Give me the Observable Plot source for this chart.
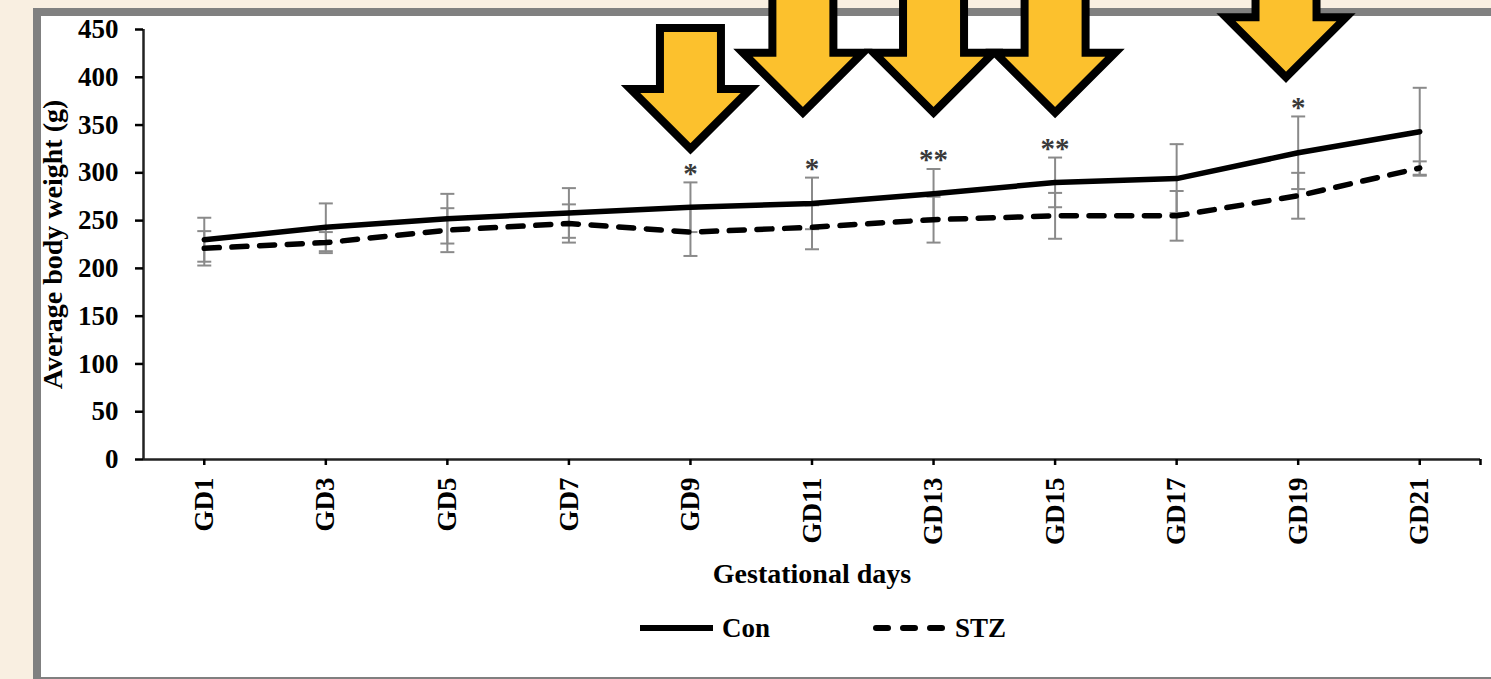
<!DOCTYPE html>
<html>
<head>
<meta charset="utf-8">
<script src="https://cdn.jsdelivr.net/npm/d3@7"></script>
<script src="https://cdn.jsdelivr.net/npm/@observablehq/plot@0.6"></script>
<style>
  html, body { margin: 0; padding: 0; }
  body { width: 1491px; height: 679px; overflow: hidden; background: #f9efe1; position: relative;
         font-family: "Liberation Serif", "Times New Roman", serif; font-weight: bold; }
  #frame { position: absolute; left: 33px; top: 8px; width: 1500px; height: 661px;
           border: 8px solid #808080; background: #ffffff; }
  #chart { position: absolute; left: 0; top: 0; }
  .leg { position: absolute; top: 615px; height: 27px; }
  .legtxt { position: absolute; top: 615px; line-height: 27px; font-size: 27px; color: #000; }
</style>
</head>
<body>
<div id="frame"></div>
<div id="chart"></div>
<svg class="leg" style="left:640px" width="76" height="27"><line x1="0" y1="13" x2="73" y2="13" stroke="#000" stroke-width="6"/></svg>
<span class="legtxt" style="left:722px">Con</span>
<svg class="leg" style="left:873px" width="76" height="27"><line x1="3" y1="13" x2="69" y2="13" stroke="#000" stroke-width="6" stroke-linecap="round" stroke-dasharray="12,15"/></svg>
<span class="legtxt" style="left:955px">STZ</span>
<script>
// ---- data ----
const days = [1, 3, 5, 7, 9, 11, 13, 15, 17, 19, 21];
const dayLabels = ["GD1", "GD3", "GD5", "GD7", "GD9", "GD11", "GD13", "GD15", "GD17", "GD19", "GD21"];
const conMean = [230, 243, 252, 258, 264, 268, 278, 290, 294, 321, 343];
const conErr  = [23, 25, 26, 26, 26, 27, 26, 26, 36, 38, 46];
const stzMean = [221, 227, 240, 247, 238, 243, 251, 255, 255, 276, 305];
const stzErr  = [18, 11, 23, 20, 25, 23, 24, 24, 26, 24, 7];
const sigMarks = ["", "", "", "", "*", "*", "**", "**", "", "*", ""];
const yTicks = [0, 50, 100, 150, 200, 250, 300, 350, 400, 450];
const arrowDays = [9, 10.85, 13, 15, 18.8];
const arrowTips = [325, 363, 363, 363, 400];
const xTitle = "Gestational days";
const yTitle = "Average body weight (g)";

// ---- tables ----
const con = days.map((d, i) => ({day: d, mean: conMean[i], lo: conMean[i] - conErr[i], hi: conMean[i] + conErr[i], sig: sigMarks[i]}));
const stz = days.map((d, i) => ({day: d, mean: stzMean[i], lo: stzMean[i] - stzErr[i], hi: stzMean[i] + stzErr[i]}));
const caps = [...con, ...stz].flatMap(r => [{day: r.day, v: r.lo}, {day: r.day, v: r.hi}]);
const arrows = arrowDays.map((d, i) => ({day: d, tip: arrowTips[i]}));

const capSymbol = {draw(ctx) { ctx.moveTo(-7, 0); ctx.lineTo(7, 0); }};
const arrowSymbol = (shaft) => ({draw(ctx) {
  ctx.moveTo(0, 0); ctx.lineTo(60, -60); ctx.lineTo(30.5, -60); ctx.lineTo(30.5, -60 - shaft);
  ctx.lineTo(-30.5, -60 - shaft); ctx.lineTo(-30.5, -60); ctx.lineTo(-60, -60); ctx.closePath();
}});
const arrowStyle = {x: "day", y: "tip", r: 10, fill: "#fcc12d", stroke: "#000", strokeWidth: 8,
                    strokeLinejoin: "miter", strokeMiterlimit: 10};

const chart = Plot.plot({
  width: 1491, height: 679,
  marginLeft: 143, marginRight: 11, marginTop: 29, marginBottom: 220,
  style: {background: "transparent", overflow: "visible", fontFamily: "'Liberation Serif', 'Times New Roman', serif",
          fontWeight: "bold", fontSize: "27px", maxWidth: "none"},
  x: {domain: [0, 22]},
  y: {domain: [0, 450]},
  marks: [
    Plot.ruleX(con, {x: "day", y1: "lo", y2: "hi", stroke: "#8a8a8a", strokeWidth: 2}),
    Plot.ruleX(stz, {x: "day", y1: "lo", y2: "hi", stroke: "#8a8a8a", strokeWidth: 2}),
    Plot.dot(caps, {x: "day", y: "v", symbol: capSymbol, r: 5, fill: "none", stroke: "#8a8a8a", strokeWidth: 2}),
    Plot.line(con, {x: "day", y: "mean", stroke: "#000", strokeWidth: 5.5}),
    Plot.line(stz, {x: "day", y: "mean", stroke: "#000", strokeWidth: 5.5, strokeDasharray: "15,12.7", strokeLinecap: "round"}),
    Plot.ruleY([0], {stroke: "#222", strokeWidth: 2.5}),
    Plot.ruleX([0], {stroke: "#222", strokeWidth: 2.5}),
    Plot.axisY({ticks: yTicks, tickSize: 8, tickPadding: 17, strokeWidth: 2.5, fontSize: 27, label: null}),
    Plot.axisX({ticks: [...days, 22], tickFormat: d => { const i = days.indexOf(d); return i < 0 ? "" : dayLabels[i]; },
                tickRotate: -90, tickSize: 6, tickPadding: 12, strokeWidth: 2.5, fontSize: 27, label: null}),
    Plot.text(con.filter(d => d.sig), {x: "day", y: "hi", text: "sig", dy: -9, fontSize: 29, fill: "#3a3a3a"}),
    Plot.text([yTitle], {text: d => d, frameAnchor: "left", textAnchor: "middle", dx: -90, rotate: -90, fontSize: 28, fill: "#000"}),
    Plot.text([xTitle], {text: d => d, frameAnchor: "bottom", textAnchor: "middle", lineAnchor: "bottom", dy: 123, fontSize: 28, fill: "#000"}),
    Plot.dot(arrows.slice(0, 1), {...arrowStyle, symbol: arrowSymbol(61)}),
    Plot.dot(arrows.slice(1), {...arrowStyle, symbol: arrowSymbol(220)})
  ]
});
document.getElementById("chart").appendChild(chart);
</script>
</body>
</html>
